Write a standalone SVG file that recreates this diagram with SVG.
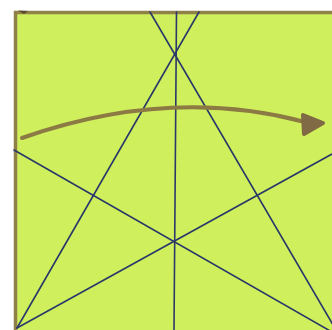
<svg xmlns="http://www.w3.org/2000/svg" width="332" height="330" viewBox="0 0 332 330">
<style>
.ink{stroke:#2a386a;stroke-width:1.6;fill:none;stroke-linecap:round}
.border{stroke:#8f8147;stroke-width:3.5;fill:none}
</style>
<rect x="0" y="0" width="332" height="330" fill="#ffffff"/>
<rect x="14" y="11" width="318" height="319" fill="#cfef5c"/>
<path class="border" d="M15.5,330 V12.5 H332"/>
<path d="M18,10.5 L28,11 L24,14 Z" fill="#5b4a30"/>
<g id="lines">
<line class="ink" x1="176.5" y1="12" x2="174" y2="330"/>
<line class="ink" x1="199" y1="12" x2="17" y2="328"/>
<line class="ink" x1="150" y1="12" x2="336" y2="330"/>
<line class="ink" x1="14" y1="150" x2="332" y2="332"/>
<line class="ink" x1="17" y1="328" x2="332" y2="154"/>
</g>
<g id="arrow">
<path d="M22,138 Q170,86 305,122" stroke="#8c7a45" stroke-width="4" fill="none" stroke-linecap="round"/>
<path d="M303,115 L323,123 L304,134 Z" fill="#806a45" stroke="#806a45" stroke-width="4" stroke-linejoin="round"/>
</g>
</svg>
